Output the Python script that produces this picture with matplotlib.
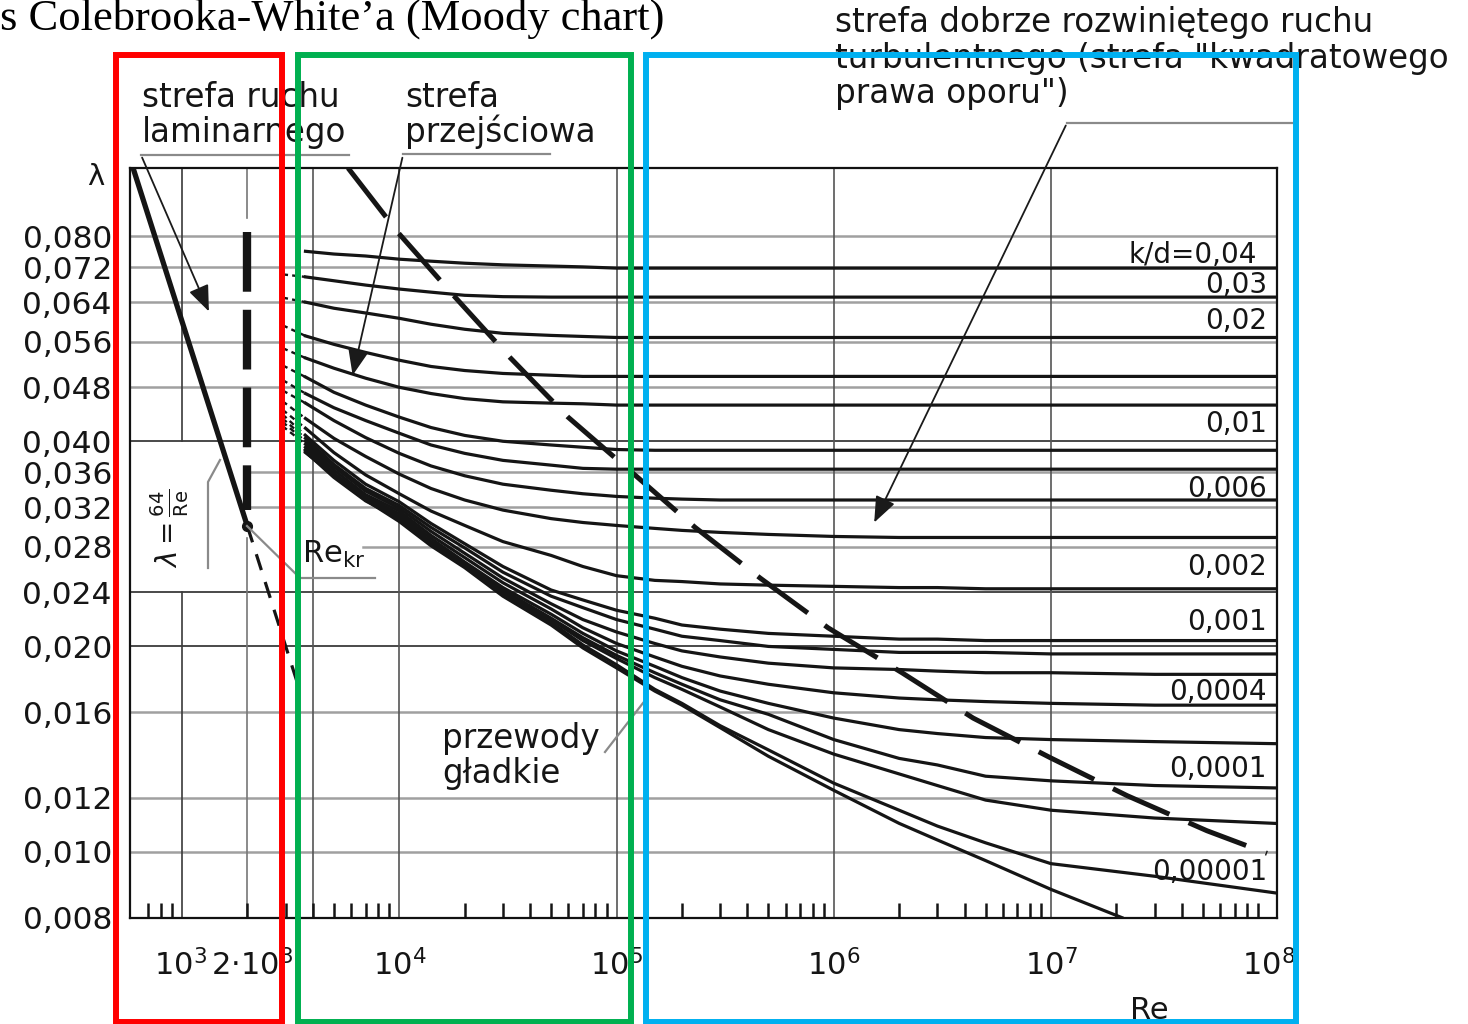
import matplotlib
matplotlib.use("Agg")
import matplotlib.pyplot as plt
from matplotlib.patches import Rectangle, FancyArrowPatch
from matplotlib.lines import Line2D
from matplotlib.ticker import FixedLocator, NullFormatter

plt.rcParams["lines.scale_dashes"] = False
plt.rcParams["font.family"] = ["DejaVu Sans"]
plt.rcParams["mathtext.fontset"] = "dejavusans"

# ---------------- data ----------------
RE_PTS = [3.7e3, 5e3, 7e3, 1e4, 1.4e4, 2e4, 3e4, 5e4, 7e4, 1e5, 1.5e5, 2e5, 3e5,
          5e5, 1e6, 2e6, 3e6, 5e6, 1e7, 3e7, 1.07e8]

lam_04 = [.0760, .0753, .0748, .0740, .0735, .0730, .0726, .0723, .0721, .0718, .0718,
          .0718, .0718, .0718, .0718, .0718, .0718, .0718, .0718, .0718, .0718]
lam_03 = [.0697, .0688, .0678, .0669, .0662, .0655, .0652, .0651, .0651, .0651, .0651,
          .0651, .0651, .0651, .0651, .0651, .0651, .0651, .0651, .0651, .0651]
lam_02 = [.0640, .0627, .0617, .0606, .0594, .0584, .0576, .0572, .0570, .0568, .0568,
          .0568, .0568, .0568, .0568, .0568, .0568, .0568, .0568, .0568, .0568]
lam_015 = [.0571, .0555, .0540, .0526, .0515, .0508, .0503, .0500, .0498, .0498, .0498,
           .0498, .0498, .0498, .0498, .0498, .0498, .0498, .0498, .0498, .0498]
lam_0125 = [.0530, .0512, .0495, .0480, .0470, .0462, .0457, .0455, .0454, .0452, .0452,
            .0452, .0452, .0452, .0452, .0452, .0452, .0452, .0452, .0452, .0452]
lam_01 = [.0497, .0472, .0452, .0434, .0419, .0408, .0400, .0395, .0392, .0389, .0388,
          .0388, .0388, .0388, .0388, .0388, .0388, .0388, .0388, .0388, .0388]
lam_008 = [.0470, .0448, .0429, .0411, .0395, .0384, .0375, .0369, .0365, .0364, .0364,
           .0364, .0364, .0364, .0364, .0364, .0364, .0364, .0364, .0364, .0364]
lam_006 = [.0455, .0429, .0405, .0384, .0368, .0356, .0346, .0339, .0335, .0332, .0330,
           .0329, .0328, .0328, .0328, .0328, .0328, .0328, .0328, .0328, .0328]
lam_004b = [.0432, .0404, .0380, .0358, .0341, .0328, .0317, .0308, .0304, .0301, .0298,
            .0296, .0294, .0292, .0290, .0289, .0289, .0289, .0289, .0289, .0289]
lam_002 = [.0418, .0385, .0357, .0335, .0316, .0301, .0285, .0272, .0262, .0254, .0250,
           .0249, .0247, .0246, .0245, .0244, .0244, .0243, .0243, .0243, .0243]
lam_001 = [.0408, .0375, .0346, .0326, .0303, .0283, .0262, .0242, .0234, .0226, .0220,
           .0215, .0212, .0209, .0207, .0205, .0205, .0204, .0204, .0204, .0204]
lam_0008 = [.0404, .0370, .0341, .0322, .0299, .0279, .0257, .0237, .0228, .0219, .0212,
            .0207, .0204, .0200, .0198, .0196, .0196, .0196, .0195, .0195, .0195]
lam_0006 = [.0400, .0367, .0338, .0319, .0295, .0274, .0252, .0231, .0219, .0210, .0202,
            .0197, .0193, .0189, .0186, .0185, .0184, .0183, .0183, .0182, .0182]
lam_0004 = [.0396, .0363, .0334, .0316, .0291, .0270, .0248, .0227, .0213, .0202, .0193,
            .0187, .0181, .0176, .0171, .0168, .0167, .0166, .0165, .0164, .0164]
lam_0002 = [.0392, .0359, .0331, .0313, .0288, .0266, .0244, .0223, .0209, .0197, .0187,
            .0180, .0172, .0165, .0157, .0151, .0149, .0147, .0146, .0145, .0144]
lam_0001 = [.0389, .0357, .0329, .0310, .0285, .0265, .0242, .0220, .0206, .0194, .0183,
            .0176, .0167, .0159, .0146, .0137, .0134, .0129, .0127, .0125, .0124]
lam_00005 = [.0388, .0356, .0328, .0309, .0284, .0263, .0241, .0219, .0204, .0192, .0180,
             .0173, .0163, .0151, .0139, .0130, .0125, .0119, .0115, .0112, .0110]
lam_00001 = [.0386, .0354, .0327, .0308, .0283, .0262, .0239, .0217, .0201, .0188, .0173,
             .0165, .0153, .0141, .0126, .0115, .0109, .0103, .0096, .0092, .0087]

# smooth pipes ("przewody gladkie")
RE_SMOOTH = [3.7e3, 5e3, 7e3, 1e4, 1.4e4, 2e4, 3e4, 5e4, 7e4, 1e5, 1.5e5, 2e5, 3e5,
             5e5, 1e6, 2e6, 3e6, 5e6, 1e7, 2.12e7]
LAM_SMOOTH = [.0385, .0357, .0328, .0305, .0281, .0261, .0237, .0215, .0199, .0186, .0172,
              .0164, .0152, .0138, .0123, .0110, .0104, .0097, .0088, .0080]

# short dashed stubs of the curves towards the critical Re
STUB_RE0 = 2.9e3
STUB_LAM0 = [.0703, .0650, .0592, .0548, .0517, .0492, .0475, .0458, .0445, .0438,
             .0432, .0427, .0421]

# laminar flow lambda = 64/Re
RE_LAM = [595, 2000]
LAM_LAM = [.1007, .0300]
RE_LAM_EXT = [2000, 3490]
LAM_LAM_EXT = [.0300, .0172]
RE_KR = 2000
LAM_KR_LINE = [.0811, .0317]

# boundary of the fully rough zone (dashed)
RE_BND = [5.81e3, 9.92e3, 1.806e4, 3.23e4, 5.98e4, 1.19e5, 2.30e5, 4.58e5, 9.41e5,
          2.06e6, 4.38e6, 9.89e6, 2.24e7, 5.22e7, 9.87e7]
LAM_BND = [.1007, .0808, .0651, .0531, .0434, .0359, .0299, .0252, .0213,
           .0183, .0157, .01374, .01208, .01073, .00994]

Y_TICKS = [0.080, 0.072, 0.064, 0.056, 0.048, 0.040, 0.036, 0.032, 0.028, 0.024,
           0.020, 0.016, 0.012, 0.010, 0.008]
Y_LABELS = ["0,080", "0,072", "0,064", "0,056", "0,048", "0,040", "0,036", "0,032",
            "0,028", "0,024", "0,020", "0,016", "0,012", "0,010", "0,008"]
X_TICKS = [1e4, 1e5, 1e6, 1e7, 1e8]
X_LABELS = [r"$10^4$", r"$10^5$", r"$10^6$", r"$10^7$", r"$10^8$"]
X_LOW_LABELS = [r"$10^3$", r"$2{\cdot}10^3$"]

KD_TEXT = ["k/d=0,04", "0,03", "0,02", "0,01", "0,006", "0,002", "0,001",
           "0,0004", "0,0001", "0,00001"]

# ---------------- figure ----------------
W, H = 1468, 1024
fig = plt.figure(figsize=(W / 100, H / 100), dpi=100)


def fp(x, y):
    return x / W, 1 - y / H


ax = fig.add_axes([130 / W, 1 - 918 / H, (1277 - 130) / W, (918 - 168) / H])
ax.set_xscale("log")
ax.set_yscale("log")
ax.set_xlim(576, 1.097e8)
ax.set_ylim(0.00799, 0.1007)

INK = "#151515"
GRID_L = "#a0a0a0"
GRID_D = "#3a3a3a"

# horizontal grid
dark_vals = {0.040, 0.024, 0.020}
for v in Y_TICKS[:-1]:
    col = GRID_D if v in dark_vals else GRID_L
    lw = 1.3 if v in dark_vals else 1.8
    if v in (0.036, 0.032):
        ax.plot([2000, 1.097e8], [v, v], color=col, lw=lw, zorder=1)
    elif v == 0.028:
        ax.plot([6.8e3, 1.097e8], [v, v], color=col, lw=lw, zorder=1)
    else:
        ax.axhline(v, color=col, lw=lw, zorder=1)

# vertical grid
for v in [4e3, 1e4, 1e5, 1e6, 1e7]:
    ax.axvline(v, color="#555555", lw=1.2, zorder=1)
ax.plot([1e3, 1e3], [0.1007, 0.040], color=GRID_D, lw=1.2, zorder=1)
ax.plot([1e3, 1e3], [0.024, 0.008], color=GRID_D, lw=1.2, zorder=1)
ax.plot([2e3, 2e3], [0.1007, 0.085], color="#777777", lw=1.2, zorder=1)
ax.plot([2e3, 2e3], [0.0288, 0.008], color="#777777", lw=1.2, zorder=1)

# curves
curves = [lam_04, lam_03, lam_02, lam_015, lam_0125, lam_01, lam_008, lam_006,
          lam_004b, lam_002, lam_001, lam_0008, lam_0006, lam_0004, lam_0002,
          lam_0001, lam_00005, lam_00001]
for lam in curves:
    ax.plot(RE_PTS, lam, color=INK, lw=2.3, solid_joinstyle="round", zorder=3)
ax.plot(RE_SMOOTH, LAM_SMOOTH, color=INK, lw=2.3, solid_joinstyle="round", zorder=3)

for lam, s0 in zip(curves[1:14], STUB_LAM0):
    ax.plot([STUB_RE0, RE_PTS[0]], [s0, lam[0]], color=INK, lw=1.7,
            dashes=(4, 3), zorder=3)

# laminar
ax.plot(RE_LAM, LAM_LAM, color=INK, lw=3.8, solid_capstyle="butt", zorder=4)
ax.plot(RE_LAM_EXT, LAM_LAM_EXT, color=INK, lw=2.3, dashes=(12, 9), zorder=4)
ax.plot([RE_KR], [LAM_LAM[1]], "o", color=INK, ms=7, zorder=5)
ax.plot([RE_KR, RE_KR], LAM_KR_LINE, color=INK, lw=6, dashes=(43, 13), zorder=4)

# boundary of the rough zone
ax.plot(RE_BND, LAM_BND, color=INK, lw=3.6, dashes=(44.6, 15.1), zorder=4)

# axes styling
for s in ax.spines.values():
    s.set_linewidth(1.6)
    s.set_color("#111111")
ax.set_yticks(Y_TICKS)
ax.set_yticklabels(Y_LABELS)
ax.yaxis.set_minor_locator(FixedLocator([]))
ax.tick_params(axis="y", which="both", length=0, pad=13, labelsize=22.5, labelcolor=INK)

ax.xaxis.set_major_locator(FixedLocator(X_TICKS))
ax.set_xticklabels(X_LABELS)
minor = [700, 800, 900] + [m * 10 ** e for e in range(3, 8) for m in range(2, 10)]
ax.xaxis.set_minor_locator(FixedLocator(minor))
ax.xaxis.set_minor_formatter(NullFormatter())
ax.tick_params(axis="x", which="major", length=0, pad=22, labelsize=22, labelcolor=INK)
ax.tick_params(axis="x", which="minor", direction="in", length=11, width=1.8, color=INK)

# the two low-Re labels, placed side by side as in the reference
fig.text(*fp(181, 949), X_LOW_LABELS[0], fontsize=22, ha="center", va="top", color=INK)
fig.text(*fp(211, 949), X_LOW_LABELS[1], fontsize=22, ha="left", va="top", color=INK)

# ---------------- texts ----------------
fig.text(*fp(0, 30), "s Colebrooka-White\u2019a (Moody chart)", family="Liberation Serif",
         fontsize=32, va="baseline", ha="left", color="#000000")

TXT = dict(fontsize=23.5, va="baseline", ha="left", color=INK)
fig.text(*fp(142, 107), "strefa ruchu", **TXT)
fig.text(*fp(142, 142), "laminarnego", **TXT)
fig.text(*fp(405, 107), "strefa", **TXT)
fig.text(*fp(405, 142), "przej\u015bciowa", **TXT)
fig.text(*fp(835, 32), "strefa dobrze rozwini\u0119tego ruchu", **TXT)
fig.text(*fp(835, 68), "turbulentnego (strefa \"kwadratowego", **TXT)
fig.text(*fp(835, 103), "prawa oporu\")", **TXT)
fig.text(*fp(442, 748), "przewody", **TXT)
fig.text(*fp(442, 783), "g\u0142adkie", **TXT)

fig.text(*fp(87, 185), "\u03bb", fontsize=21, va="baseline", color=INK)
fig.text(*fp(1130, 1019), "Re", fontsize=22, va="baseline", color=INK)
fig.text(*fp(170, 528), r"$\lambda=\frac{64}{\mathrm{Re}}$", rotation=90,
         fontsize=20, ha="center", va="center", color=INK)
fig.text(*fp(302, 563), r"Re$_{\mathrm{kr}}$", fontsize=22, va="baseline", color=INK)

kd_pos = [(1257, 263), (1267, 293), (1267, 329), (1267, 432), (1267, 497),
          (1267, 575), (1267, 630), (1267, 700), (1267, 777), (1267, 880)]
for t, (x, y) in zip(KD_TEXT, kd_pos):
    fig.text(*fp(x, y), t, fontsize=20, ha="right", va="baseline", color=INK)

# leader lines
LEAD = dict(color="#8a8a8a", lw=1.6, transform=fig.transFigure, zorder=6)


def poly(pts, **kw):
    xs = [p[0] / W for p in pts]
    ys = [1 - p[1] / H for p in pts]
    fig.add_artist(Line2D(xs, ys, **kw))


poly([(141, 155), (349, 155)], **LEAD)
poly([(403, 154), (550, 154)], **LEAD)
poly([(1067, 123), (1292, 123)], **LEAD)
poly([(247, 526), (300, 578), (375, 578)], **LEAD)
poly([(208, 568), (208, 482), (220, 460)], **LEAD)
poly([(605, 752), (643, 703)], **LEAD)


def arrow(p0, p1):
    a = FancyArrowPatch(fp(*p0), fp(*p1), transform=fig.transFigure,
                        arrowstyle="-|>,head_length=0.8,head_width=0.32",
                        mutation_scale=20, lw=1.3, color="#1a1a1a", zorder=7)
    fig.add_artist(a)


arrow((141, 155), (210, 314))
arrow((403, 155), (352, 378))
arrow((1067, 123), (873, 525))

# coloured zone frames
for x0, x1, col in [(116, 282, "#FF0000"), (298, 630.5, "#00B050"), (646, 1296, "#00B0F0")]:
    fig.add_artist(Rectangle(fp(x0, 1022), (x1 - x0) / W, (1022 - 55) / H,
                             transform=fig.transFigure, fill=False, ec=col,
                             lw=4.3, zorder=20))

fig.savefig("out.png", dpi=100)
